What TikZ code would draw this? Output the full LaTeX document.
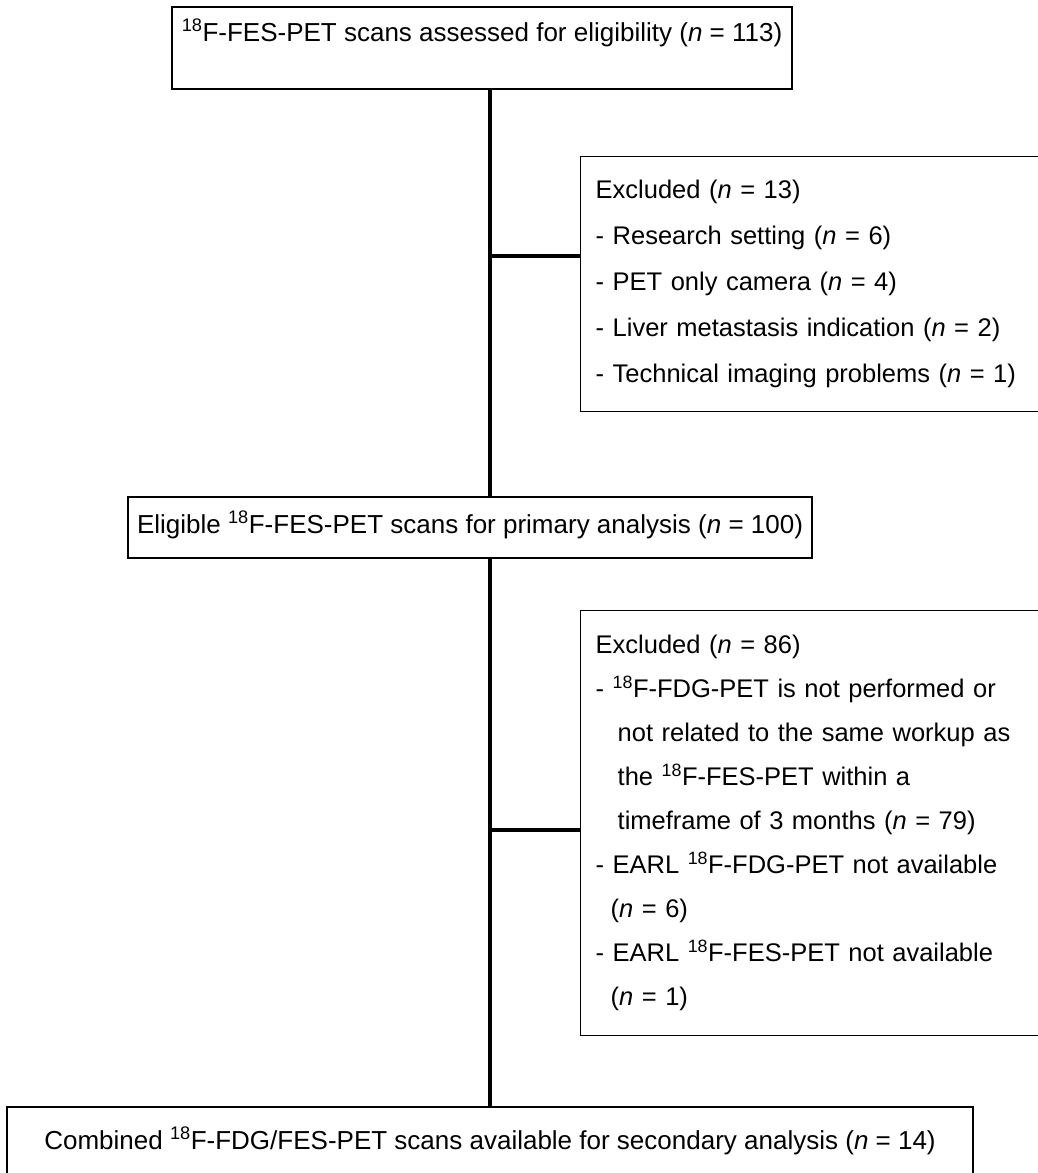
\documentclass[tikz,border=0pt]{standalone}
\usepackage{fontspec}
\setmainfont{Liberation Sans}
\begin{document}
\begin{tikzpicture}[x=1pt,y=-1pt,
  box/.style={draw, line width=1.4pt, inner sep=0pt, font=\fontsize{26}{31}\selectfont},
  exbox/.style={box, anchor=north west, align=left, inner xsep=15pt, text width=440pt},
  link/.style={line width=3.8pt}]
\useasboundingbox (0,0) rectangle (1038,1173);
\node[box, anchor=base, minimum width=620pt, text height=34pt, text depth=48pt] (scans0) at (482,41) {\textsuperscript{18}F-FES-PET scans assessed for eligibility (\textit{n} = 113)};
\node[box, anchor=base, minimum width=684pt, text height=36pt, text depth=25pt] (scans1) at (470,533) {Eligible \textsuperscript{18}F-FES-PET scans for primary analysis (\textit{n} = 100)};
\node[box, anchor=base, minimum width=966pt, text height=42pt, text depth=34pt] (scans2) at (490,1149) {Combined \textsuperscript{18}F-FDG/FES-PET scans available for secondary analysis (\textit{n} = 14)};
\node[exbox, minimum height=255pt, font=\fontsize{25.5}{46}\selectfont] (excl1) at (580,156) {Excluded (\textit{n} = 13)\\
- Research setting (\textit{n} = 6)\\
- PET only camera (\textit{n} = 4)\\
- Liver metastasis indication (\textit{n} = 2)\\
- Technical imaging problems (\textit{n} = 1)};
\node[exbox, minimum height=425pt, font=\fontsize{25.5}{44}\selectfont] (excl2) at (580,610) {Excluded (\textit{n} = 86)\\
- \textsuperscript{18}F-FDG-PET is not performed or\\
\hspace*{22pt}not related to the same workup as\\
\hspace*{22pt}the \textsuperscript{18}F-FES-PET within a\\
\hspace*{22pt}timeframe of 3 months (\textit{n} = 79)\\
- EARL \textsuperscript{18}F-FDG-PET not available\\
\hspace*{15pt}(\textit{n} = 6)\\
- EARL \textsuperscript{18}F-FES-PET not available\\
\hspace*{15pt}(\textit{n} = 1)};
\coordinate (j1) at (490,256);
\coordinate (j2) at (490,830);
\draw[link] (scans0.south -| j1) -- (scans1.north -| j1);
\draw[link] (scans1.south -| j2) -- (scans2.north -| j2);
\draw[link] (j1) -- (excl1.west |- j1);
\draw[link] (j2) -- (excl2.west |- j2);
\end{tikzpicture}
\end{document}
